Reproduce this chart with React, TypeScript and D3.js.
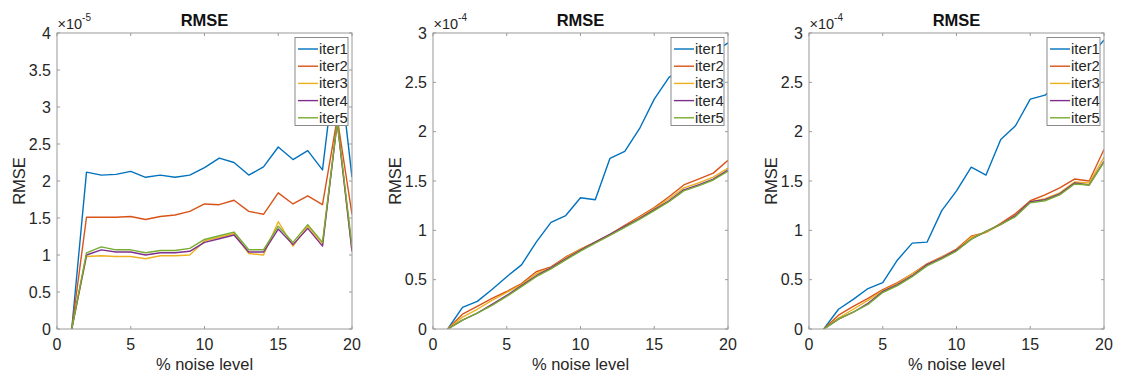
import React from "react";
import * as d3 from "d3";

const noiseLevels = d3.range(1, 21);
const seriesNames = ["iter1", "iter2", "iter3", "iter4", "iter5"];
const seriesColors = ["#0072BD", "#D95319", "#EDB120", "#7E2F8E", "#77AC30"];

// Panel 1 (x1e-5)
const p1Iter1 = [0, 2.12, 2.08, 2.09, 2.13, 2.05, 2.08, 2.05, 2.08, 2.18, 2.31, 2.25, 2.08, 2.19, 2.46, 2.29, 2.41, 2.15, 3.8, 2.05];
const p1Iter2 = [0, 1.51, 1.51, 1.51, 1.52, 1.48, 1.52, 1.54, 1.59, 1.69, 1.68, 1.74, 1.59, 1.55, 1.84, 1.69, 1.80, 1.68, 2.85, 1.55];
const p1Iter3 = [0, 0.98, 0.99, 0.98, 0.98, 0.95, 0.99, 0.99, 1.00, 1.19, 1.24, 1.29, 1.02, 1.00, 1.45, 1.12, 1.39, 1.15, 2.8, 1.05];
const p1Iter4 = [0, 1.00, 1.07, 1.04, 1.04, 1.00, 1.03, 1.03, 1.05, 1.17, 1.22, 1.27, 1.04, 1.04, 1.35, 1.14, 1.36, 1.12, 2.8, 1.05];
const p1Iter5 = [0, 1.03, 1.11, 1.07, 1.07, 1.03, 1.06, 1.06, 1.09, 1.21, 1.26, 1.31, 1.07, 1.07, 1.39, 1.17, 1.41, 1.17, 2.8, 1.12];

// Panel 2 (x1e-4)
const p2Iter1 = [0, 0.22, 0.28, 0.40, 0.53, 0.65, 0.88, 1.08, 1.15, 1.33, 1.31, 1.73, 1.80, 2.03, 2.33, 2.55, 2.65, 2.75, 2.80, 2.90];
const p2Iter2 = [0, 0.15, 0.23, 0.31, 0.38, 0.46, 0.58, 0.63, 0.73, 0.81, 0.88, 0.96, 1.05, 1.14, 1.23, 1.34, 1.46, 1.52, 1.58, 1.71];
const p2Iter3 = [0, 0.12, 0.20, 0.29, 0.37, 0.45, 0.56, 0.62, 0.72, 0.81, 0.88, 0.96, 1.04, 1.13, 1.22, 1.32, 1.43, 1.48, 1.54, 1.63];
const p2Iter4 = [0, 0.09, 0.16, 0.25, 0.34, 0.44, 0.54, 0.62, 0.71, 0.80, 0.88, 0.96, 1.04, 1.12, 1.21, 1.30, 1.41, 1.46, 1.52, 1.61];
const p2Iter5 = [0, 0.09, 0.16, 0.24, 0.33, 0.43, 0.53, 0.61, 0.70, 0.79, 0.87, 0.95, 1.03, 1.11, 1.20, 1.29, 1.40, 1.45, 1.51, 1.60];

// Panel 3 (x1e-4)
const p3Iter1 = [0, 0.20, 0.30, 0.41, 0.47, 0.70, 0.87, 0.88, 1.20, 1.40, 1.64, 1.56, 1.92, 2.06, 2.33, 2.37, 2.50, 2.62, 2.75, 2.93];
const p3Iter2 = [0, 0.14, 0.23, 0.31, 0.40, 0.47, 0.56, 0.66, 0.73, 0.81, 0.94, 0.98, 1.07, 1.17, 1.30, 1.36, 1.43, 1.52, 1.50, 1.82];
const p3Iter3 = [0, 0.11, 0.20, 0.29, 0.39, 0.46, 0.56, 0.65, 0.73, 0.80, 0.93, 0.98, 1.06, 1.15, 1.29, 1.32, 1.38, 1.49, 1.48, 1.74];
const p3Iter4 = [0, 0.10, 0.17, 0.26, 0.38, 0.45, 0.54, 0.65, 0.72, 0.80, 0.91, 0.99, 1.06, 1.15, 1.29, 1.31, 1.37, 1.48, 1.46, 1.70];
const p3Iter5 = [0, 0.10, 0.17, 0.25, 0.37, 0.44, 0.53, 0.64, 0.71, 0.79, 0.91, 0.99, 1.06, 1.14, 1.28, 1.30, 1.36, 1.47, 1.46, 1.69];

const xTicks = [0, 5, 10, 15, 20];
const yTicksP1 = [0, 0.5, 1, 1.5, 2, 2.5, 3, 3.5, 4];
const yTicksP23 = [0, 0.5, 1, 1.5, 2, 2.5, 3];

const panels = [
  { left: 57, yMax: 4, yTicks: yTicksP1, exponent: "-5", series: [p1Iter1, p1Iter2, p1Iter3, p1Iter4, p1Iter5] },
  { left: 433, yMax: 3, yTicks: yTicksP23, exponent: "-4", series: [p2Iter1, p2Iter2, p2Iter3, p2Iter4, p2Iter5] },
  { left: 809, yMax: 3, yTicks: yTicksP23, exponent: "-4", series: [p3Iter1, p3Iter2, p3Iter3, p3Iter4, p3Iter5] },
];

const W = 295;
const TOP = 33;
const BOTTOM = 329;
const FONT = "'Liberation Sans', Arial, Helvetica, sans-serif";
const AXIS_COLOR = "#9a9a9a";
const TEXT_COLOR = "#262626";

function Panel({ p, idx }: { p: any; idx: number }) {
  const x = d3.scaleLinear().domain([0, 20]).range([p.left, p.left + W]);
  const y = d3.scaleLinear().domain([0, p.yMax]).range([BOTTOM, TOP]);
  const line = d3
    .line<number>()
    .x((_, i) => x(noiseLevels[i]))
    .y((d) => y(d));
  const right = p.left + W;
  const tl = 3;
  const clipId = `clip${idx}`;
  const legX = right - 57;
  const legY = 37.5;
  const legW = 53;
  const legH = 88;
  const rowStep = 17.2;
  return (
    <g>
      <defs>
        <clipPath id={clipId}>
          <rect x={p.left} y={TOP} width={W} height={BOTTOM - TOP} />
        </clipPath>
      </defs>
      <rect x={p.left} y={TOP} width={W} height={BOTTOM - TOP} fill="#fff" />
      {xTicks.map((t) => (
        <g key={"xt" + t}>
          <line x1={x(t)} x2={x(t)} y1={BOTTOM} y2={BOTTOM - tl} stroke={AXIS_COLOR} />
          <line x1={x(t)} x2={x(t)} y1={TOP} y2={TOP + tl} stroke={AXIS_COLOR} />
          <text x={x(t)} y={350} textAnchor="middle" fontSize={16} fill={TEXT_COLOR} fontFamily={FONT}>
            {t}
          </text>
        </g>
      ))}
      {p.yTicks.map((t: number) => (
        <g key={"yt" + t}>
          <line x1={p.left} x2={p.left + tl} y1={y(t)} y2={y(t)} stroke={AXIS_COLOR} />
          <line x1={right} x2={right - tl} y1={y(t)} y2={y(t)} stroke={AXIS_COLOR} />
          <text x={p.left - 6} y={y(t) + 5.5} textAnchor="end" fontSize={16} fill={TEXT_COLOR} fontFamily={FONT}>
            {t}
          </text>
        </g>
      ))}
      <g clipPath={`url(#${clipId})`}>
        {p.series.map((s: number[], i: number) => (
          <path key={i} d={line(s) || ""} fill="none" stroke={seriesColors[i]} strokeWidth={1.4} strokeLinejoin="round" />
        ))}
      </g>
      <rect x={p.left} y={TOP} width={W} height={BOTTOM - TOP} fill="none" stroke={AXIS_COLOR} strokeWidth={1} />
      <rect x={legX} y={legY} width={legW} height={legH} fill="#fff" stroke="#8a8a8a" strokeWidth={1} />
      {seriesNames.map((n, i) => {
        const cy = legY + 11.5 + i * rowStep;
        return (
          <g key={n}>
            <line x1={legX + 3} x2={legX + 23} y1={cy} y2={cy} stroke={seriesColors[i]} strokeWidth={1.4} />
            <text x={legX + 24} y={cy + 5} fontSize={14.8} fill={TEXT_COLOR} fontFamily={FONT}>
              {n}
            </text>
          </g>
        );
      })}
      <text x={p.left + W / 2} y={26} textAnchor="middle" fontSize={16.5} fontWeight="bold" fill="#111" fontFamily={FONT}>
        RMSE
      </text>
      <text x={p.left + 0.5} y={29} fontSize={14.5} fill={TEXT_COLOR} fontFamily={FONT}>
        ×10
        <tspan fontSize={10} dy={-8}>
          {p.exponent}
        </tspan>
      </text>
      <text x={p.left + W / 2} y={370} textAnchor="middle" fontSize={16.5} fill={TEXT_COLOR} fontFamily={FONT}>
        % noise level
      </text>
      <text
        transform={`translate(${p.left - 32},${(TOP + BOTTOM) / 2}) rotate(-90)`}
        textAnchor="middle"
        fontSize={16.5}
        fill={TEXT_COLOR}
        fontFamily={FONT}
      >
        RMSE
      </text>
    </g>
  );
}

export default function App() {
  return (
    <svg width={1121} height={374} style={{ position: "absolute", left: 0, top: 0, background: "#fff" }}>
      <rect x={0} y={0} width={1121} height={374} fill="#fff" />
      {panels.map((p, i) => (
        <Panel key={i} p={p} idx={i} />
      ))}
    </svg>
  );
}
